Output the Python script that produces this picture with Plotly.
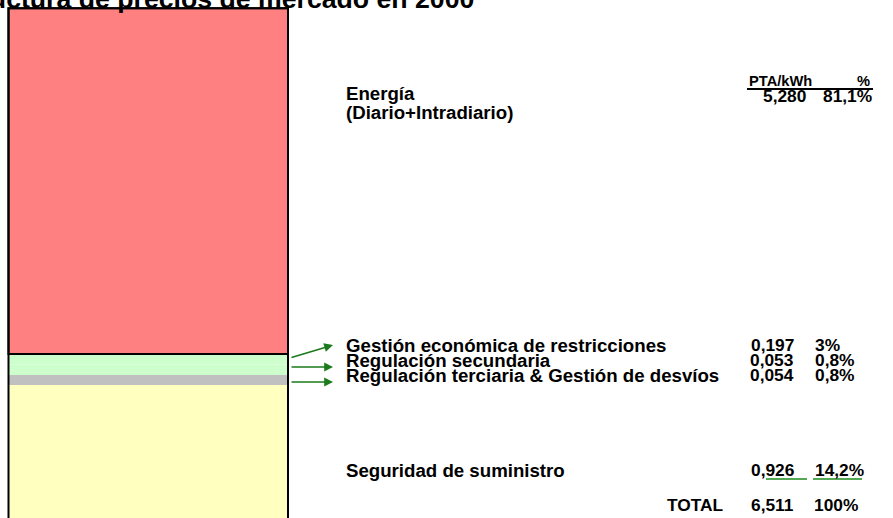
import numpy as np
import plotly.graph_objects as go

W, H = 893, 518

# ---------------- data ----------------
title_text = "Estructura de precios de mercado en 2000"
# stacked segments, bottom to top
segment_names = ["Seguridad de suministro",
                 "Regulación terciaria & Gestión de desvíos",
                 "Regulación secundaria",
                 "Gestión económica de restricciones",
                 "Energía"]
# visual heights of the bar segments as drawn in the picture
segment_heights = [2.40, 0.153, 0.161, 0.161, 5.28]
segment_colors = ["#FFFFC0", "#C0C0C0", "#CCFFCC", "#CCFFCC", "#FF8080"]
# table values (PTA/kWh and %), top to bottom
row_labels = ["Gestión económica de restricciones", "Regulación secundaria",
              "Regulación terciaria & Gestión de desvíos"]
row_prices = ["0,197", "0,053", "0,054"]
row_pcts = ["3%", "0,8%", "0,8%"]
energy_label = ["Energía", "(Diario+Intradiario)"]
energy_price, energy_pct = "5,280", "81,1%"
seg_label, seg_price, seg_pct = "Seguridad de suministro", "0,926", "14,2%"
total_label, total_price, total_pct = "TOTAL", "6,511", "100%"
header_unit, header_pct = "PTA/kWh", "%"

# ---------------- figure ----------------
fig = go.Figure()
bases = np.concatenate([[0.0], np.cumsum(segment_heights)[:-1]])
for name, h, b, c in zip(segment_names, segment_heights, bases, segment_colors):
    lw = 2 if name == "Energía" else 0
    fig.add_trace(go.Bar(x=[0], y=[h], base=[b], width=[1], name=name,
                         marker=dict(color=c, line=dict(color="black", width=lw)),
                         hoverinfo="skip"))
fig.add_trace(go.Bar(x=[0], y=[float(np.sum(segment_heights))], base=[0], width=[1],
                     marker=dict(color="rgba(0,0,0,0)", line=dict(color="black", width=2)),
                     hoverinfo="skip"))

FONT = "Liberation Sans, Arial, sans-serif"
FL = 18.67   # labels
FN = 17.33   # numbers
FH = 14.67   # header


def P(x, y):
    """page pixel -> paper coords"""
    return x / W, 1 - y / H


anns = []


def txt(s, x, y, anchor="left", size=FL, color="black"):
    px_, py_ = P(x, y)
    anns.append(dict(text="<b>%s</b>" % s, x=px_, y=py_, xref="paper", yref="paper",
                     xanchor=anchor, yanchor="middle", showarrow=False,
                     font=dict(family=FONT, size=size, color=color)))


# title (partially cut by the page edge)
txt(title_text, 476, -1, anchor="right", size=26.67)

# header
txt(header_unit, 747, 81, size=FH)
txt(header_pct, 872, 81, anchor="right", size=FH)
# energy
txt(energy_label[0], 344, 94)
txt(energy_label[1], 344, 112)
txt(energy_price, 808, 96, anchor="right", size=FN)
txt(energy_pct, 821, 96, size=FN)
# middle rows
row_y = [345, 360, 375]
for lab, pr, pc, yy in zip(row_labels, row_prices, row_pcts, row_y):
    txt(lab, 344, yy)
    txt(pr, 796, yy, anchor="right", size=FN)
    txt(pc, 813, yy, size=FN)
# seguridad
txt(seg_label, 344, 470)
txt(seg_price, 797, 470, anchor="right", size=FN)
txt(seg_pct, 813, 470, size=FN)
# total
txt(total_label, 726, 505, anchor="right", size=FN)
txt(total_price, 796, 505, anchor="right", size=FN)
txt(total_pct, 812, 505, size=FN)

# arrows (tip x, tip y, tail dx, tail dy) in page pixels
arrow_tips = [(333, 345, -43, 13), (333, 367, -43, 0), (333, 382, -43, 0)]
for tx, ty, ax, ay in arrow_tips:
    px_, py_ = P(tx, ty)
    anns.append(dict(text="", x=px_, y=py_, xref="paper", yref="paper",
                     ax=ax, ay=ay, showarrow=True, arrowhead=2, arrowsize=1.1,
                     arrowwidth=1.6, arrowcolor="#1B7A1B", standoff=0, startstandoff=0))

shapes = []


def hline(x0, x1, y, color, w):
    a0, b0 = P(x0, y)
    a1, _ = P(x1, y)
    shapes.append(dict(type="line", xref="paper", yref="paper", x0=a0, x1=a1, y0=b0, y1=b0,
                       line=dict(color=color, width=w)))


hline(747, 873, 89, "black", 2)
hline(766, 807, 479, "#1B8A1B", 1.5)
hline(813, 862, 479, "#1B8A1B", 1.5)

# axis ranges chosen so that the bar sits where it does in the picture
PX_X = 279.5                      # pixels per x unit
x_left = -0.5 - 8.5 / PX_X
x_right = x_left + W / PX_X
PX_Y = 65.45                      # pixels per y unit
y_bottom = 0.368
y_top = y_bottom + H / PX_Y

fig.update_layout(
    width=W, height=H, margin=dict(l=0, r=0, t=0, b=0),
    barmode="overlay", showlegend=False,
    plot_bgcolor="white", paper_bgcolor="white",
    xaxis=dict(range=[x_left, x_right], visible=False, fixedrange=True),
    yaxis=dict(range=[y_bottom, y_top], visible=False, fixedrange=True),
    annotations=anns, shapes=shapes,
)

fig.write_html("out.html", config={"displayModeBar": False},
               post_script="document.body.style.margin='0px';")
